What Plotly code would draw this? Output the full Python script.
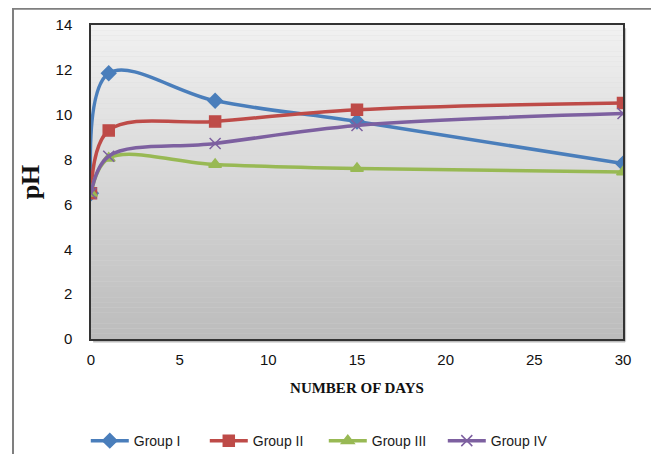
import plotly.graph_objects as go

days = [0, 1, 7, 15, 30]
group_1 = [6.5, 11.85, 10.62, 9.7, 7.82]
group_2 = [6.5, 9.3, 9.7, 10.22, 10.52]
group_3 = [6.5, 8.06, 7.78, 7.6, 7.45]
group_4 = [6.5, 8.15, 8.72, 9.52, 10.05]

series = [
    ("Group I", group_1, "#4a7ebb", "diamond", 11),
    ("Group II", group_2, "#be4b48", "square", 11),
    ("Group III", group_3, "#98b954", "triangle-up", 11),
    ("Group IV", group_4, "#7d60a0", "x-thin", 11),
]

fig = go.Figure()
for name, vals, color, sym, size in series:
    fig.add_trace(go.Scatter(
        x=days, y=vals, name=name, mode="lines+markers",
        line=dict(color=color, width=3.5, shape="spline", smoothing=1.0),
        marker=dict(symbol=sym, size=size, color=color,
                    line=dict(color=color, width=1.5)),
    ))

# gradient background strips for plot area
shapes = []
n = 60
top = (241, 241, 241)
bot = (188, 188, 188)
for i in range(n):
    t = i / (n - 1)
    c = tuple(int(round(top[k] + (bot[k] - top[k]) * t)) for k in range(3))
    shapes.append(dict(type="rect", xref="x domain", yref="y domain",
                       x0=0, x1=1, y0=1 - (i + 1) / n, y1=1 - i / n,
                       fillcolor="rgb(%d,%d,%d)" % c, line=dict(width=0),
                       layer="below"))
# shadow of plot area
shapes.append(dict(type="line", xref="paper", yref="paper",
                   x0=0.004, x1=1.004, y0=-0.008, y1=-0.008,
                   line=dict(color="rgba(120,120,120,0.5)", width=2), layer="below"))
shapes.append(dict(type="line", xref="paper", yref="paper",
                   x0=1.004, x1=1.004, y0=-0.008, y1=0.99,
                   line=dict(color="rgba(120,120,120,0.4)", width=2), layer="below"))
# outer frame
shapes.append(dict(type="rect", xref="paper", yref="paper",
                   x0=-0.1466, x1=1.064, y0=-0.45, y1=1.052,
                   line=dict(color="#7f7f7f", width=2), fillcolor="rgba(0,0,0,0)",
                   layer="below"))

fig.update_layout(
    width=651, height=446,
    margin=dict(l=83, r=36, t=17, b=115, autoexpand=False),
    paper_bgcolor="white",
    plot_bgcolor="#d8d8d8",
    shapes=shapes,
    showlegend=True,
    legend=dict(orientation="h", x=-0.0098, xanchor="left", y=-0.325, yanchor="middle",
                font=dict(family="Liberation Sans", size=14, color="#1a1a1a"),
                itemwidth=38, entrywidth=66, entrywidthmode="pixels",
                bgcolor="rgba(0,0,0,0)"),
    font=dict(family="Liberation Sans", size=12, color="#111111"),
)
fig.update_xaxes(range=[0, 30], dtick=5, tick0=0, showgrid=False, zeroline=False,
                 showline=True, mirror=True, linecolor="#333333", linewidth=1.5,
                 ticks="", ticklabelstandoff=6,
                 tickfont=dict(size=15, family="Liberation Sans", color="#111111"),
                 title=dict(text="<b>NUMBER OF DAYS</b>", standoff=16,
                            font=dict(family="Liberation Serif", size=15, color="#111111")))
fig.update_yaxes(range=[0, 14], dtick=2, tick0=0, showgrid=False, zeroline=False,
                 showline=True, mirror=True, linecolor="#333333", linewidth=1.5,
                 ticks="", ticklabelstandoff=14,
                 tickfont=dict(size=15, family="Liberation Sans", color="#111111"),
                 title=dict(text="<b>pH</b>", standoff=8,
                            font=dict(family="Liberation Serif", size=26, color="#111111")))

fig.write_html("out.html")
